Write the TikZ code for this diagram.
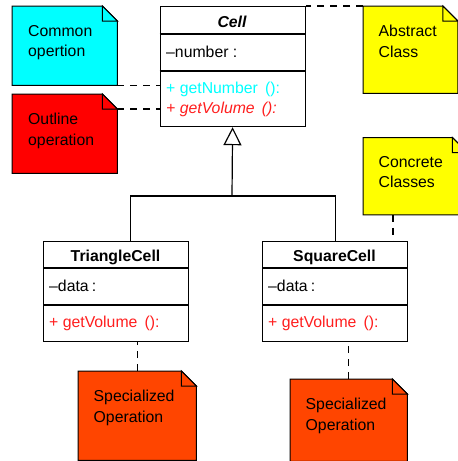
\documentclass[tikz,border=0pt]{standalone}
\usepackage{fontspec}
\setmainfont{Liberation Sans}
\usetikzlibrary{arrows.meta,calc}

\definecolor{notecyan}{RGB}{0,255,255}
\definecolor{notered}{RGB}{255,0,0}
\definecolor{noteyellow}{RGB}{255,255,0}
\definecolor{noteorange}{RGB}{255,69,0}
\definecolor{opcyan}{RGB}{0,255,255}
\definecolor{opred}{RGB}{255,30,30}

% dog-eared note outline around an (empty) node
\newcommand\drawnote[2]{%
  \draw[noteline, fill=#2] (#1.north west) -- ([xshift=-15pt]#1.north east)
    -- ([yshift=-15pt]#1.north east) -- (#1.south east) -- (#1.south west) -- cycle;
  \draw[noteline, fill=#2] ([xshift=-15pt]#1.north east)
    -- ([xshift=-15pt,yshift=-15pt]#1.north east) -- ([yshift=-15pt]#1.north east) -- cycle;}

\begin{document}
\begin{tikzpicture}[x=1pt,y=-1pt,
  txt/.style={font=\fontsize{15.8}{20.5}\selectfont},
  classbox/.style={draw, line width=1.2pt, fill=white, inner sep=0pt, anchor=north west},
  sepline/.style={line width=1.2pt},
  notebody/.style={inner sep=0pt, anchor=north west},
  noteline/.style={line width=1pt, line join=miter},
  notetext/.style={txt, anchor=north west, inner sep=0pt, align=left},
  classtitle/.style={txt, anchor=base, inner sep=0pt, font=\fontsize{15.8}{20}\selectfont\bfseries},
  member/.style={txt, anchor=base west, inner sep=0pt},
  edge/.style={line width=1.2pt},
  link/.style={line width=1.2pt, dash pattern=on 7pt off 6pt}]

\clip (0,0) rectangle (458,461);
\fill[white] (0,0) rectangle (458,461);

% ---- notes ----
\node[notebody, minimum width=105pt, minimum height=79pt] (common) at (12,6) {};
\drawnote{common}{notecyan}
\node[notetext] (commonlabel) at ($(common.north west)+(16,19)$) {Common\\opertion};

\node[notebody, minimum width=105pt, minimum height=79pt] (outline) at (12,94) {};
\drawnote{outline}{notered}
\node[notetext] (outlinelabel) at ($(outline.north west)+(16,19)$) {Outline\\operation};

\node[notebody, minimum width=94.5pt, minimum height=87pt] (abstract) at (363,6) {};
\drawnote{abstract}{noteyellow}
\node[notetext] (abstractlabel) at ($(abstract.north west)+(15.5,19)$) {Abstract\\Class};

\node[notebody, minimum width=104pt, minimum height=77pt] (concrete) at (363,137.5) {};
\drawnote{concrete}{noteyellow}
\node[notetext] (concretelabel) at ($(concrete.north west)+(15.5,18.5)$) {Concrete\\Classes};

\node[notebody, minimum width=118pt, minimum height=89pt] (specL) at (78,371) {};
\drawnote{specL}{noteorange}
\node[notetext] (specLlabel) at ($(specL.north west)+(15.5,19)$) {Specialized\\Operation};

\node[notebody, minimum width=117pt, minimum height=82pt] (specR) at (290,379) {};
\drawnote{specR}{noteorange}
\node[notetext] (specRlabel) at ($(specR.north west)+(15.5,19)$) {Specialized\\Operation};

% ---- classes ----
\node[classbox, minimum width=145pt, minimum height=120pt] (cell) at (159.5,6) {};
\draw[sepline] (cell.west |- 0,34) -- (cell.east |- 0,34);
\draw[sepline] (cell.west |- 0,71) -- (cell.east |- 0,71);
\node[classtitle, font=\fontsize{15.8}{20}\selectfont\bfseries\itshape] (celltitle) at (232,27) {Cell};
\node[member] (cellattr) at (166,57) {–number :};
\node[member, text=opcyan] (cellop1) at (166,93) {+ getNumber\hspace{.45em}():};
\node[member, text=opred, font=\fontsize{15.8}{20}\selectfont\itshape] (cellop2) at (166,113) {+ getVolume\hspace{.45em}():};

\node[classbox, minimum width=145pt, minimum height=100pt] (tri) at (43,241) {};
\draw[sepline] (tri.west |- 0,268) -- (tri.east |- 0,268);
\draw[sepline] (tri.west |- 0,305) -- (tri.east |- 0,305);
\node[classtitle] (trititle) at (115.5,261) {TriangleCell};
\node[member] (triattr) at (49,291) {–data\hspace{.2em}:};
\node[member, text=opred] (triop) at (49,327) {+ getVolume\hspace{.45em}():};

\node[classbox, minimum width=145pt, minimum height=100pt] (square) at (262,241) {};
\draw[sepline] (square.west |- 0,268) -- (square.east |- 0,268);
\draw[sepline] (square.west |- 0,305) -- (square.east |- 0,305);
\node[classtitle] (squaretitle) at (334.5,261) {SquareCell};
\node[member] (squareattr) at (268,291) {–data\hspace{.2em}:};
\node[member, text=opred] (squareop) at (268,327) {+ getVolume\hspace{.45em}():};

% ---- generalization ----
\coordinate (split) at (232,196);
\draw[edge, -{Triangle[open, length=18pt, width=18pt, line width=1.2pt, fill=white]}] (split) -- (cell.south);
\draw[edge] ([xshift=14.5pt]tri.north) |- (split) -| (square.north);

% ---- note attachments ----
\draw[link] (common.south east) -- (common.south east -| cell.west);
\coordinate (outfold) at ([yshift=-15pt]outline.north east);
\draw[link] (outfold) -- (outfold -| cell.west);
\draw[link] (abstract.north west) -- (cell.north east);
\coordinate (concfoot) at ([xshift=30pt]concrete.south west);
\draw[link] (concfoot) -- (concfoot |- square.north);
\draw[link] (specL.north) -- (specL.north |- tri.south);
\draw[link] (specR.north) -- (specR.north |- square.south);
\end{tikzpicture}
\end{document}
